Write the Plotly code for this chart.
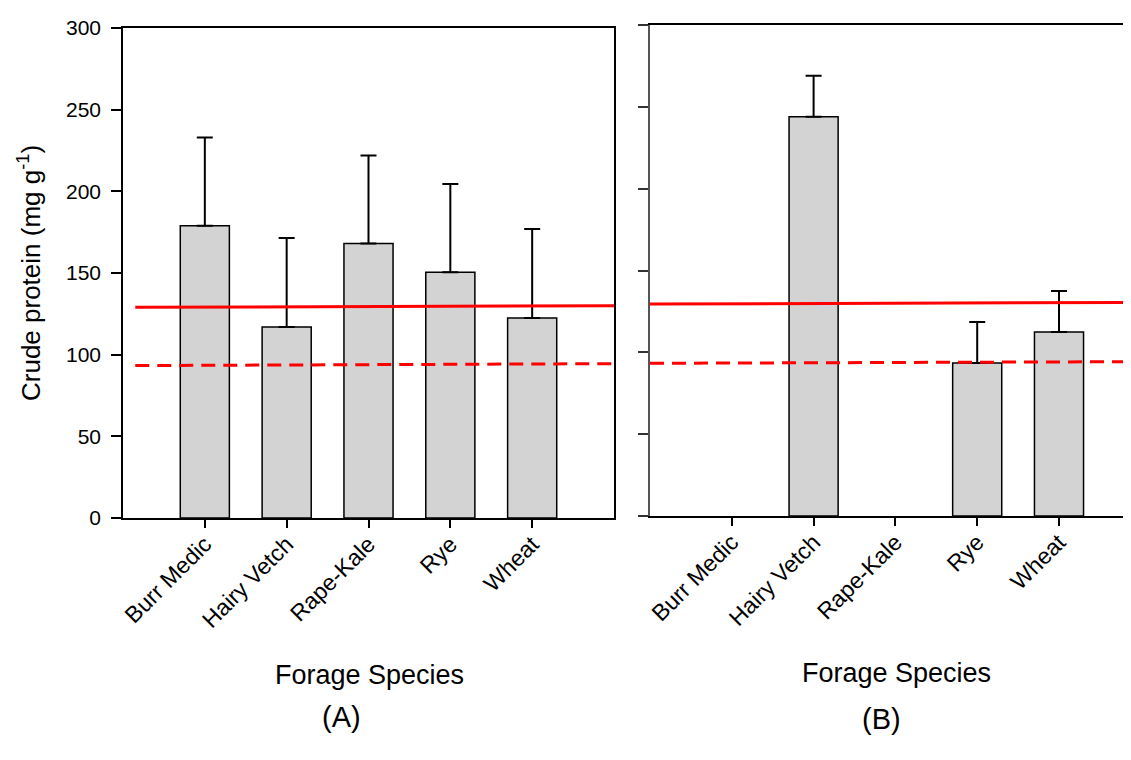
import plotly.graph_objects as go

W, H = 1131, 760
OFF = 8  # page body margin offset in the screenshot

species = ["Burr Medic", "Hairy Vetch", "Rape-Kale", "Rye", "Wheat"]

# Panel A
a_mean = [179, 117, 168, 150.5, 122.5]
a_err = [54, 54.5, 54, 54, 54.5]
# Panel B (no data for Burr Medic and Rape-Kale)
b_mean = [None, 244, None, 93.5, 112.5]
b_err = [None, 25, None, 25, 25]

# Reference lines (start, end) values
a_solid = [129, 130]
a_dashed = [93.3, 94.5]
b_solid = [129.5, 130.5]
b_dashed = [93.3, 94.3]
a_line_x = [-0.85, 5]
b_line_x = [-1, 5]

y_ticks = [0, 50, 100, 150, 200, 250, 300]

FONT = "Liberation Sans, Arial, sans-serif"

fig = go.Figure()

def px_x(p):
    return (p - OFF) / W

def px_y(p):
    return 1 - (p - OFF) / H

bar_style = dict(marker=dict(color="#d3d3d3", line=dict(color="black", width=1.5)),
                 width=0.6, showlegend=False)

fig.add_trace(go.Bar(x=list(range(5)), y=a_mean, xaxis="x", yaxis="y",
                     error_y=dict(type="data", symmetric=False, array=a_err,
                                  arrayminus=[0] * 5, color="black", thickness=2, width=8),
                     **bar_style))
fig.add_trace(go.Bar(x=list(range(5)), y=b_mean, xaxis="x2", yaxis="y2",
                     error_y=dict(type="data", symmetric=False, array=b_err,
                                  arrayminus=[0] * 5, color="black", thickness=2, width=8),
                     **bar_style))

fig.add_trace(go.Scatter(x=a_line_x, y=a_solid, mode="lines", xaxis="x", yaxis="y",
                         line=dict(color="#ff0000", width=3), showlegend=False))
fig.add_trace(go.Scatter(x=a_line_x, y=a_dashed, mode="lines", xaxis="x", yaxis="y",
                         line=dict(color="#ff0000", width=3, dash="14px,8px"), showlegend=False))
fig.add_trace(go.Scatter(x=b_line_x, y=b_solid, mode="lines", xaxis="x2", yaxis="y2",
                         line=dict(color="#ff0000", width=3), showlegend=False))
fig.add_trace(go.Scatter(x=b_line_x, y=b_dashed, mode="lines", xaxis="x2", yaxis="y2",
                         line=dict(color="#ff0000", width=3, dash="14px,8px"), showlegend=False))

xcommon = dict(tickmode="array", tickvals=list(range(5)), ticktext=species,
               tickangle=-45, ticks="outside", ticklen=8, tickwidth=1.5, tickcolor="black",
               showline=True, linecolor="black", linewidth=1.5, mirror=True,
               showgrid=False, zeroline=False, automargin=False, ticklabelstandoff=-6,
               tickfont=dict(family=FONT, size=23, color="black"))

# panel B: plot area reaches past the visible right edge, like the reference
b_right = 1.0
b_range_end = -1 + (W + OFF - 650) / 81.8

fig.update_layout(
    width=W, height=H,
    margin=dict(l=0, r=0, t=0, b=0),
    paper_bgcolor="white", plot_bgcolor="white",
    bargap=0.4,
    xaxis=dict(domain=[px_x(123), px_x(614)], range=[-1, 5], anchor="y", **xcommon),
    yaxis=dict(domain=[px_y(518), px_y(28)], range=[0, 300], anchor="x",
               tickvals=y_ticks, ticks="outside", ticklen=10, tickwidth=1.5, tickcolor="black",
               showline=True, linecolor="black", linewidth=1.5, mirror=True,
               showgrid=False, zeroline=False, automargin=False, ticklabelstandoff=6,
               tickfont=dict(family=FONT, size=21, color="black")),
    xaxis2=dict(domain=[px_x(650), b_right], range=[-1, b_range_end], anchor="y2", **xcommon),
    yaxis2=dict(domain=[px_y(516), px_y(25)], range=[0, 300], anchor="x2",
                tickvals=y_ticks, showticklabels=False,
                ticks="outside", ticklen=10, tickwidth=1.5, tickcolor="#333333",
                showline=True, linecolor="#555555", linewidth=2, mirror=False,
                showgrid=False, zeroline=False, automargin=False),
)

annots = [
    dict(text="Crude protein (mg g<sup>-1</sup>)", x=px_x(30), y=px_y(273), textangle=-90,
         font=dict(family=FONT, size=26, color="black")),
    dict(text="Forage Species", x=px_x(369), y=px_y(675),
         font=dict(family=FONT, size=27, color="black")),
    dict(text="Forage Species", x=px_x(896), y=px_y(673),
         font=dict(family=FONT, size=27, color="black")),
    dict(text="(A)", x=px_x(341), y=px_y(717),
         font=dict(family=FONT, size=29, color="black")),
    dict(text="(B)", x=px_x(881), y=px_y(719),
         font=dict(family=FONT, size=29, color="black")),
]
for a in annots:
    fig.add_annotation(xref="paper", yref="paper", showarrow=False,
                       xanchor="center", yanchor="middle", **a)

fig.write_html("out.html")
